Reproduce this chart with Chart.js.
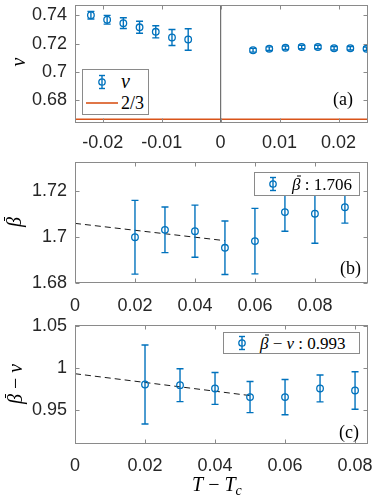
<!DOCTYPE html>
<html>
<head>
<meta charset="utf-8">
<script src="https://cdn.jsdelivr.net/npm/chart.js@4.4.0/dist/chart.umd.min.js"></script>
<style>
  html, body { margin: 0; padding: 0; background: #fff; }
  #wrap { position: relative; width: 374px; height: 499px; overflow: hidden; }
  canvas { position: absolute; left: 0; }
  .lbl { position: absolute; font-family: "Liberation Serif", serif; color: #000; white-space: nowrap; line-height: 1; transform: translateY(-50%); }
  .ylab { position: absolute; font-family: "Liberation Serif", serif; font-style: italic; font-size: 20px; line-height: 1; white-space: nowrap; transform: translate(-50%, -50%) rotate(-90deg); }
  .it { font-style: italic; }
  .up { font-style: normal; }
  .bb { position: relative; display: inline-block; font-style: italic; }
  .bb::before { content: ''; position: absolute; left: 0.28em; right: -0.02em; top: -0.02em; border-top: 1px solid #000; }
  .legbox { position: absolute; box-sizing: border-box; border: 1px solid #8a8a8a; background: #fff; }
  svg { position: absolute; }
</style>
</head>
<body>
<div id="wrap">
  <canvas id="chartA" width="374" height="150" style="top:0px"></canvas>
  <canvas id="chartB" width="374" height="165" style="top:150px"></canvas>
  <canvas id="chartC" width="374" height="184" style="top:315px"></canvas>

  <!-- axis titles -->
  <div class="ylab" style="left:18px; top:62px;">ν</div>
  <div class="ylab" style="left:14px; top:222px;"><span class="bb">β</span></div>
  <div class="ylab" style="left:15px; top:384px;"><span class="bb">β</span> <span class="up">−</span> ν</div>
  <div class="lbl" style="left:192px; top:486px; font-size:20px;"><span class="it">T</span> − <span class="it">T<sub style="font-size:14px; vertical-align:-4px;">c</sub></span></div>

  <!-- legend (a) -->
  <div class="legbox" style="left:82px; top:69px; width:67px; height:46px;"></div>
  <svg style="left:95px; top:74px;" width="14" height="16">
    <line x1="7" y1="1.5" x2="7" y2="14.5" stroke="#0072BD" stroke-width="1.4"/>
    <line x1="4" y1="1.5" x2="10" y2="1.5" stroke="#0072BD" stroke-width="1.4"/>
    <line x1="4" y1="14.5" x2="10" y2="14.5" stroke="#0072BD" stroke-width="1.4"/>
    <circle cx="7" cy="8" r="3.2" fill="#fff" stroke="#0072BD" stroke-width="1.3"/>
    <line x1="7" y1="5" x2="7" y2="11" stroke="#0072BD" stroke-width="1.4"/>
  </svg>
  <div class="lbl it" style="left:121px; top:81px; font-size:20px;">ν</div>
  <svg style="left:86px; top:100px;" width="34" height="6">
    <line x1="0" y1="3" x2="32" y2="3" stroke="#D95319" stroke-width="1.6"/>
  </svg>
  <div class="lbl" style="left:121px; top:103px; font-size:18px;">2/3</div>
  <div class="lbl" style="left:333px; top:99px; font-size:18px;">(a)</div>

  <!-- legend (b) -->
  <div class="legbox" style="left:254px; top:172px; width:106px; height:24px;"></div>
  <svg style="left:266px; top:176px;" width="14" height="16">
    <line x1="7" y1="1.5" x2="7" y2="14.5" stroke="#0072BD" stroke-width="1.4"/>
    <line x1="4" y1="1.5" x2="10" y2="1.5" stroke="#0072BD" stroke-width="1.4"/>
    <line x1="4" y1="14.5" x2="10" y2="14.5" stroke="#0072BD" stroke-width="1.4"/>
    <circle cx="7" cy="8" r="3.2" fill="none" stroke="#0072BD" stroke-width="1.3"/>
  </svg>
  <div class="lbl" style="left:292px; top:184px; font-size:17px;"><span class="bb">β</span> : 1.706</div>
  <div class="lbl" style="left:340px; top:268px; font-size:18px;">(b)</div>

  <!-- legend (c) -->
  <div class="legbox" style="left:223px; top:332px; width:137px; height:22px;"></div>
  <svg style="left:235px; top:335px;" width="14" height="16">
    <line x1="7" y1="1.5" x2="7" y2="14.5" stroke="#0072BD" stroke-width="1.4"/>
    <line x1="4" y1="1.5" x2="10" y2="1.5" stroke="#0072BD" stroke-width="1.4"/>
    <line x1="4" y1="14.5" x2="10" y2="14.5" stroke="#0072BD" stroke-width="1.4"/>
    <circle cx="7" cy="8" r="3.2" fill="none" stroke="#0072BD" stroke-width="1.3"/>
  </svg>
  <div class="lbl" style="left:260px; top:343px; font-size:17px;"><span class="bb">β</span> − <span class="it">ν</span> : 0.993</div>
  <div class="lbl" style="left:339px; top:432px; font-size:18px;">(c)</div>
</div>

<script>
// ── Data (a): nu against T - Tc ─────────────────────────────────────────────
const nuX = [-0.022, -0.01925, -0.0165, -0.01375, -0.011, -0.00825, -0.0055,
             0.0055, 0.00825, 0.011, 0.01375, 0.0165, 0.01925, 0.022, 0.02475];
const nuY = [0.7400, 0.7368, 0.7344, 0.7315, 0.7283, 0.7243, 0.7229,
             0.7153, 0.7164, 0.7171, 0.7176, 0.7176, 0.7167, 0.7167, 0.7164];
const nuErr = [0.0027, 0.0031, 0.0038, 0.0042, 0.0043, 0.0056, 0.0076,
               0.0013, 0.0013, 0.0012, 0.0012, 0.0012, 0.0012, 0.0012, 0.0012];
const nuRef = 2 / 3;
const nuXTicks = [-0.02, -0.01, 0, 0.01, 0.02];
const nuYTicks = [0.68, 0.70, 0.72, 0.74];

// ── Data (b): beta-bar against T - Tc ───────────────────────────────────────
const betaX = [0.02, 0.03, 0.04, 0.05, 0.06, 0.07, 0.08, 0.09];
const betaY = [1.7000, 1.7032, 1.7026, 1.6954, 1.6983, 1.7109, 1.7102, 1.7130];
const betaErr = [0.0160, 0.0099, 0.0113, 0.0116, 0.0142, 0.0083, 0.0128, 0.0069];
const betaFitX = [0, 0.05];
const betaFitY = [1.706, 1.6985];
const betaXTicks = [0, 0.02, 0.04, 0.06, 0.08];
const betaYTicks = [1.68, 1.70, 1.72];

// ── Data (c): beta-bar minus nu against T - Tc ──────────────────────────────
const diffX = [0.02, 0.03, 0.04, 0.05, 0.06, 0.07, 0.08];
const diffY = [0.9802, 0.9794, 0.9755, 0.9652, 0.9652, 0.9755, 0.9731];
const diffErr = [0.0470, 0.0196, 0.0190, 0.0185, 0.0210, 0.0160, 0.0223];
const diffFitX = [0, 0.05];
const diffFitY = [0.993, 0.967];
const diffXTicks = [0, 0.02, 0.04, 0.06, 0.08];
const diffYTicks = [0.95, 1, 1.05];

const BLUE = '#0072BD';
const ORANGE = '#D95319';
const FRAME = '#8a8a8a';
const TICK_FONT = { family: '"Liberation Sans", Arial, sans-serif', size: 18 };

// ── Helpers ─────────────────────────────────────────────────────────────────
const fmt = v => String(parseFloat(Number(v).toFixed(4)));
const pts = (xs, ys) => xs.map((x, i) => ({ x, y: ys[i] }));

// error bars, drawn from each dataset's `errors` through the chart scales
const errorBars = {
    id: 'errorBars',
    afterDatasetsDraw(chart) {
        const { ctx, chartArea, scales } = chart;
        ctx.save();
        ctx.beginPath();
        ctx.rect(chartArea.left, chartArea.top, chartArea.width, chartArea.height);
        ctx.clip();
        ctx.setLineDash([]);
        ctx.strokeStyle = BLUE;
        ctx.lineWidth = 1.4;
        chart.data.datasets.forEach(ds => {
            if (!ds.errors) return;
            ds.data.forEach((p, i) => {
                const x = scales.x.getPixelForValue(p.x);
                const yT = scales.y.getPixelForValue(p.y + ds.errors[i]);
                const yB = scales.y.getPixelForValue(p.y - ds.errors[i]);
                ctx.beginPath();
                ctx.moveTo(x, yT); ctx.lineTo(x, yB);
                ctx.moveTo(x - 3.5, yT); ctx.lineTo(x + 3.5, yT);
                ctx.moveTo(x - 3.5, yB); ctx.lineTo(x + 3.5, yB);
                ctx.stroke();
            });
        });
        ctx.restore();
    }
};

// box round the axes with ticks pointing inward on all four sides
const axesBox = {
    id: 'axesBox',
    afterDraw(chart) {
        const { ctx, chartArea: a, scales } = chart;
        const L = Math.round(a.left) + 0.5, R = Math.round(a.right) - 0.5;
        const T = Math.round(a.top) + 0.5, B = Math.round(a.bottom) - 0.5;
        const len = 4;
        ctx.save();
        ctx.setLineDash([]);
        ctx.strokeStyle = FRAME;
        ctx.lineWidth = 1;
        ctx.strokeRect(L, T, R - L, B - T);
        ctx.beginPath();
        scales.x.ticks.forEach(t => {
            const x = Math.round(scales.x.getPixelForValue(t.value)) + 0.5;
            ctx.moveTo(x, B); ctx.lineTo(x, B - len);
            ctx.moveTo(x, T); ctx.lineTo(x, T + len);
        });
        scales.y.ticks.forEach(t => {
            const y = Math.round(scales.y.getPixelForValue(t.value)) + 0.5;
            ctx.moveTo(L, y); ctx.lineTo(L + len, y);
            ctx.moveTo(R, y); ctx.lineTo(R - len, y);
        });
        ctx.stroke();
        ctx.restore();
    }
};

function makeOptions(cfg) {
    return {
        responsive: false,
        devicePixelRatio: 1,
        animation: false,
        events: [],
        layout: { padding: { top: cfg.padTop, right: 6, left: 0, bottom: 0 } },
        plugins: { legend: { display: false }, tooltip: { enabled: false } },
        scales: {
            x: {
                type: 'linear',
                min: cfg.xMin, max: cfg.xMax,
                grid: { display: false, drawTicks: false },
                border: { display: false },
                afterBuildTicks: s => { s.ticks = cfg.xTicks.map(v => ({ value: v })); },
                afterFit: s => { s.height = cfg.xAxisH; s.paddingLeft = 0; s.paddingRight = 0; },
                ticks: {
                    color: '#262626', padding: cfg.xPad, maxRotation: 0, autoSkip: false,
                    font: TICK_FONT,
                    callback: v => fmt(v)
                }
            },
            y: {
                type: 'linear',
                min: cfg.yMin, max: cfg.yMax,
                grid: { display: false, drawTicks: false },
                border: { display: false },
                afterBuildTicks: s => { s.ticks = cfg.yTicks.map(v => ({ value: v })); },
                afterFit: s => { s.width = 75; s.paddingTop = 0; s.paddingBottom = 0; },
                ticks: {
                    color: '#262626', padding: 8, autoSkip: false,
                    font: TICK_FONT,
                    callback: v => fmt(v)
                }
            }
        }
    };
}

function markerSet(xs, ys, errs) {
    return {
        type: 'scatter',
        data: pts(xs, ys),
        errors: errs,
        showLine: false,
        pointStyle: 'circle',
        pointRadius: 3.3,
        pointBorderWidth: 1.3,
        borderColor: BLUE,
        pointBorderColor: BLUE,
        backgroundColor: 'rgba(0,0,0,0)',
        pointBackgroundColor: 'rgba(0,0,0,0)',
        order: 0
    };
}

function lineSet(xs, ys, color, width, dash) {
    return {
        type: 'scatter',
        data: pts(xs, ys),
        showLine: true,
        pointRadius: 0,
        borderWidth: width,
        borderColor: color,
        borderDash: dash || [],
        order: 1
    };
}

// ── (a) ─────────────────────────────────────────────────────────────────────
const aXMin = -0.0247, aXMax = 0.025, aYMin = 0.664, aYMax = 0.747;
new Chart(document.getElementById('chartA'), {
    type: 'scatter',
    data: {
        datasets: [
            lineSet([0, 0], [aYMin, aYMax], '#707070', 1.2),
            lineSet([aXMin, aXMax], [nuRef, nuRef], ORANGE, 1.6),
            markerSet(nuX, nuY, nuErr)
        ]
    },
    options: makeOptions({
        padTop: 0, xAxisH: 27, xPad: 9,
        xMin: aXMin, xMax: aXMax, xTicks: nuXTicks,
        yMin: aYMin, yMax: aYMax, yTicks: nuYTicks
    }),
    plugins: [errorBars, axesBox]
});

// ── (b) ─────────────────────────────────────────────────────────────────────
new Chart(document.getElementById('chartB'), {
    type: 'scatter',
    data: {
        datasets: [
            lineSet(betaFitX, betaFitY, '#1a1a1a', 1, [6, 4]),
            markerSet(betaX, betaY, betaErr)
        ]
    },
    options: makeOptions({
        padTop: 12.3, xAxisH: 31.7, xPad: 12,
        xMin: 0, xMax: 0.0977, xTicks: betaXTicks,
        yMin: 1.68, yMax: 1.7325, yTicks: betaYTicks
    }),
    plugins: [errorBars, axesBox]
});

// ── (c) ─────────────────────────────────────────────────────────────────────
new Chart(document.getElementById('chartC'), {
    type: 'scatter',
    data: {
        datasets: [
            lineSet(diffFitX, diffFitY, '#1a1a1a', 1, [6, 4]),
            markerSet(diffX, diffY, diffErr)
        ]
    },
    options: makeOptions({
        padTop: 10, xAxisH: 54.7, xPad: 11,
        xMin: 0, xMax: 0.0837, xTicks: diffXTicks,
        yMin: 0.909, yMax: 1.051, yTicks: diffYTicks
    }),
    plugins: [errorBars, axesBox]
});
</script>
</body>
</html>
